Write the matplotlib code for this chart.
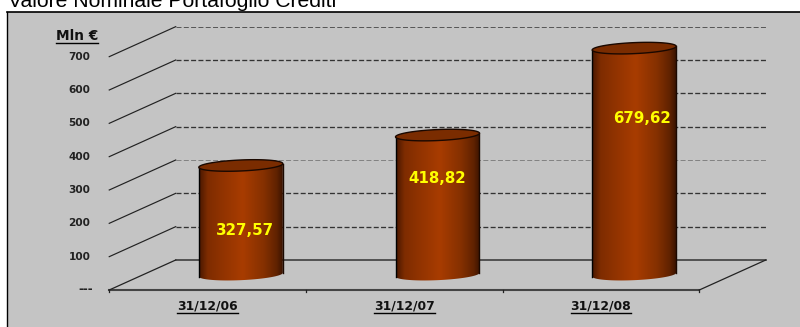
import numpy as np
import matplotlib
matplotlib.use('Agg')
import matplotlib.pyplot as plt
from matplotlib.colors import LinearSegmentedColormap
from matplotlib.patches import Polygon

# dati
date_labels = ['31/12/06', '31/12/07', '31/12/08']
valori = [327.57, 418.82, 679.62]
valori_txt = ['327,57', '418,82', '679,62']
livelli = [100, 200, 300, 400, 500, 600, 700]
livelli_txt = ['100', '200', '300', '400', '500', '600', '700']

# posizione delle etichette sul cilindro (quota relativa, scarto in pixel)
label_quota = [0.40, 0.69, 0.69]
label_dx = [4, 0, 8]

# finta prospettiva: spostamento del piano di fondo rispetto al fronte
DEPTH_X = 0.338
DEPTH_Y = 90
MID_X = 0.169
MID_Y = 46
RX = 0.2135
RY = 16.5
TILT = 11.0

BG = '#c4c4c4'
cil_cmap = LinearSegmentedColormap.from_list('cil', [
    (0.0, '#4a1800'), (0.10, '#7e2c00'), (0.25, '#8e3200'), (0.52, '#a83c00'),
    (0.78, '#843000'), (0.93, '#602200'), (1.0, '#3c1400')])

fig = plt.figure(figsize=(8, 3.27), dpi=100)
fig.patch.set_facecolor('white')
fig.text(8.5 / 800, 1 - 7.3 / 327, 'Valore Nominale Portafoglio Crediti',
         family='Liberation Sans', fontsize=15.2, color='black', va='baseline', zorder=0)

ax = fig.add_axes([7 / 800, 0, 793 / 800, 315 / 327])
ax.set_facecolor(BG)
xlim = (-1.0198, 3.012)
ylim = (-111, 834)
ax.set_xticks([])
ax.set_yticks([])
for s in ['right', 'bottom']:
    ax.spines[s].set_visible(False)
ax.spines['left'].set_linewidth(1.0)
ax.spines['top'].set_linewidth(1.2)

x0, x1 = -0.5, 2.5

# griglia e diagonali
pesi = {100: (0.95, '#333333'), 200: (0.95, '#333333'), 300: (0.6, '#777777'),
        400: (0.95, '#333333'), 500: (0.95, '#333333'), 600: (0.95, '#333333'),
        700: (0.7, '#555555')}
for v, txt in zip(livelli, livelli_txt):
    lw, col = pesi[v]
    ax.plot([x0 + DEPTH_X, x1 + DEPTH_X], [v + DEPTH_Y, v + DEPTH_Y], color=col,
            lw=lw, dashes=(3.6 / lw, 1.66 / lw), zorder=1)
    ax.plot([x0, x0 + DEPTH_X], [v, v + DEPTH_Y], color='#222222', lw=0.85, zorder=1)
    ax.annotate(txt, (x0, v), xytext=(-19, 0), textcoords='offset pixels', ha='right',
                va='center', family='DejaVu Sans', weight='bold', fontsize=7.6,
                color='#222222')
ax.annotate('---', (x0, 0), xytext=(-16, 0), textcoords='offset pixels', ha='right',
            va='center', family='DejaVu Sans', weight='bold', fontsize=8.5, color='#222222')

# pavimento
ax.plot([x0, x1], [0, 0], color='#444444', lw=1.5, zorder=2)
ax.plot([x0 + DEPTH_X, x1 + DEPTH_X], [DEPTH_Y, DEPTH_Y], color='#333333', lw=1.1, zorder=1)
ax.plot([x0, x0 + DEPTH_X], [0, DEPTH_Y], color='#222222', lw=0.9, zorder=2)
ax.plot([x1, x1 + DEPTH_X], [0, DEPTH_Y], color='#222222', lw=0.9, zorder=2)
for xt in np.arange(x0, x1 + 0.5):
    ax.plot([xt, xt], [0, -6], color='#222222', lw=0.9, zorder=2)


def underline(t, gap=1.5):
    # linea sotto il testo, larga quanto il testo
    fig.canvas.draw()
    bb = t.get_window_extent().transformed(ax.transData.inverted())
    ax.plot([bb.x0, bb.x1], [bb.y0 - gap, bb.y0 - gap], color='black', lw=1.0, zorder=4)


# cilindri
th = np.linspace(0, 2 * np.pi, 121)
for i, (v, txt) in enumerate(zip(valori, valori_txt)):
    xc = i + MID_X
    ex = xc + RX * np.cos(th)
    tilt = TILT * np.cos(th) * 0.5
    ey_base = MID_Y + RY * np.sin(th) + tilt
    ey_top = MID_Y + v + RY * np.sin(th) + tilt

    # corpo: parte frontale della base, lati, bordo alto
    front = th > np.pi
    bx = ex[front]
    by = ey_base[front]
    body = Polygon(np.column_stack([
        np.r_[xc - RX, bx, xc + RX],
        np.r_[MID_Y + v - TILT / 2, by, MID_Y + v + TILT / 2]]),
        closed=True, fc='none', ec='none', zorder=3)
    ax.add_patch(body)
    im = ax.imshow(np.linspace(0, 1, 200)[None, :], cmap=cil_cmap, aspect='auto',
                   extent=(xc - RX, xc + RX, -50, 800), zorder=3, vmin=0, vmax=1)
    im.set_clip_path(body)
    ax.plot([xc - RX, xc - RX], [MID_Y - TILT / 2, MID_Y + v - TILT / 2], color='black', lw=1.0, zorder=4)
    ax.plot([xc + RX, xc + RX], [MID_Y + TILT / 2, MID_Y + v + TILT / 2], color='#1a0800', lw=1.0, zorder=4)

    # coperchio
    ax.add_patch(Polygon(np.column_stack([ex, ey_top]), closed=True, fc='#7a2c00',
                         ec='#1a0800', lw=1.0, zorder=5))

    # etichetta valore
    ax.annotate(txt, (xc, MID_Y + v * label_quota[i]), xytext=(label_dx[i], 0),
                textcoords='offset pixels', ha='center', va='center', family='DejaVu Sans',
                weight='bold', fontsize=10.8, color='#ffff00', zorder=6)

    # data sotto l'asse
    ax.text(i, -48, date_labels[i], ha='center', va='center', family='DejaVu Sans',
            weight='bold', fontsize=8.9, color='#111111', zorder=4)

ax.set_xlim(xlim)
ax.set_ylim(ylim)
for t in list(ax.texts):
    if t.get_text() in date_labels:
        underline(t)
mln = ax.text(x0 - 32.5 / 197, 762, 'Mln €', ha='center', va='center', family='DejaVu Sans',
              weight='bold', fontsize=9.8, color='#111111')
underline(mln)
ax.set_xlim(xlim)
ax.set_ylim(ylim)

fig.savefig('out.png', dpi=100)
